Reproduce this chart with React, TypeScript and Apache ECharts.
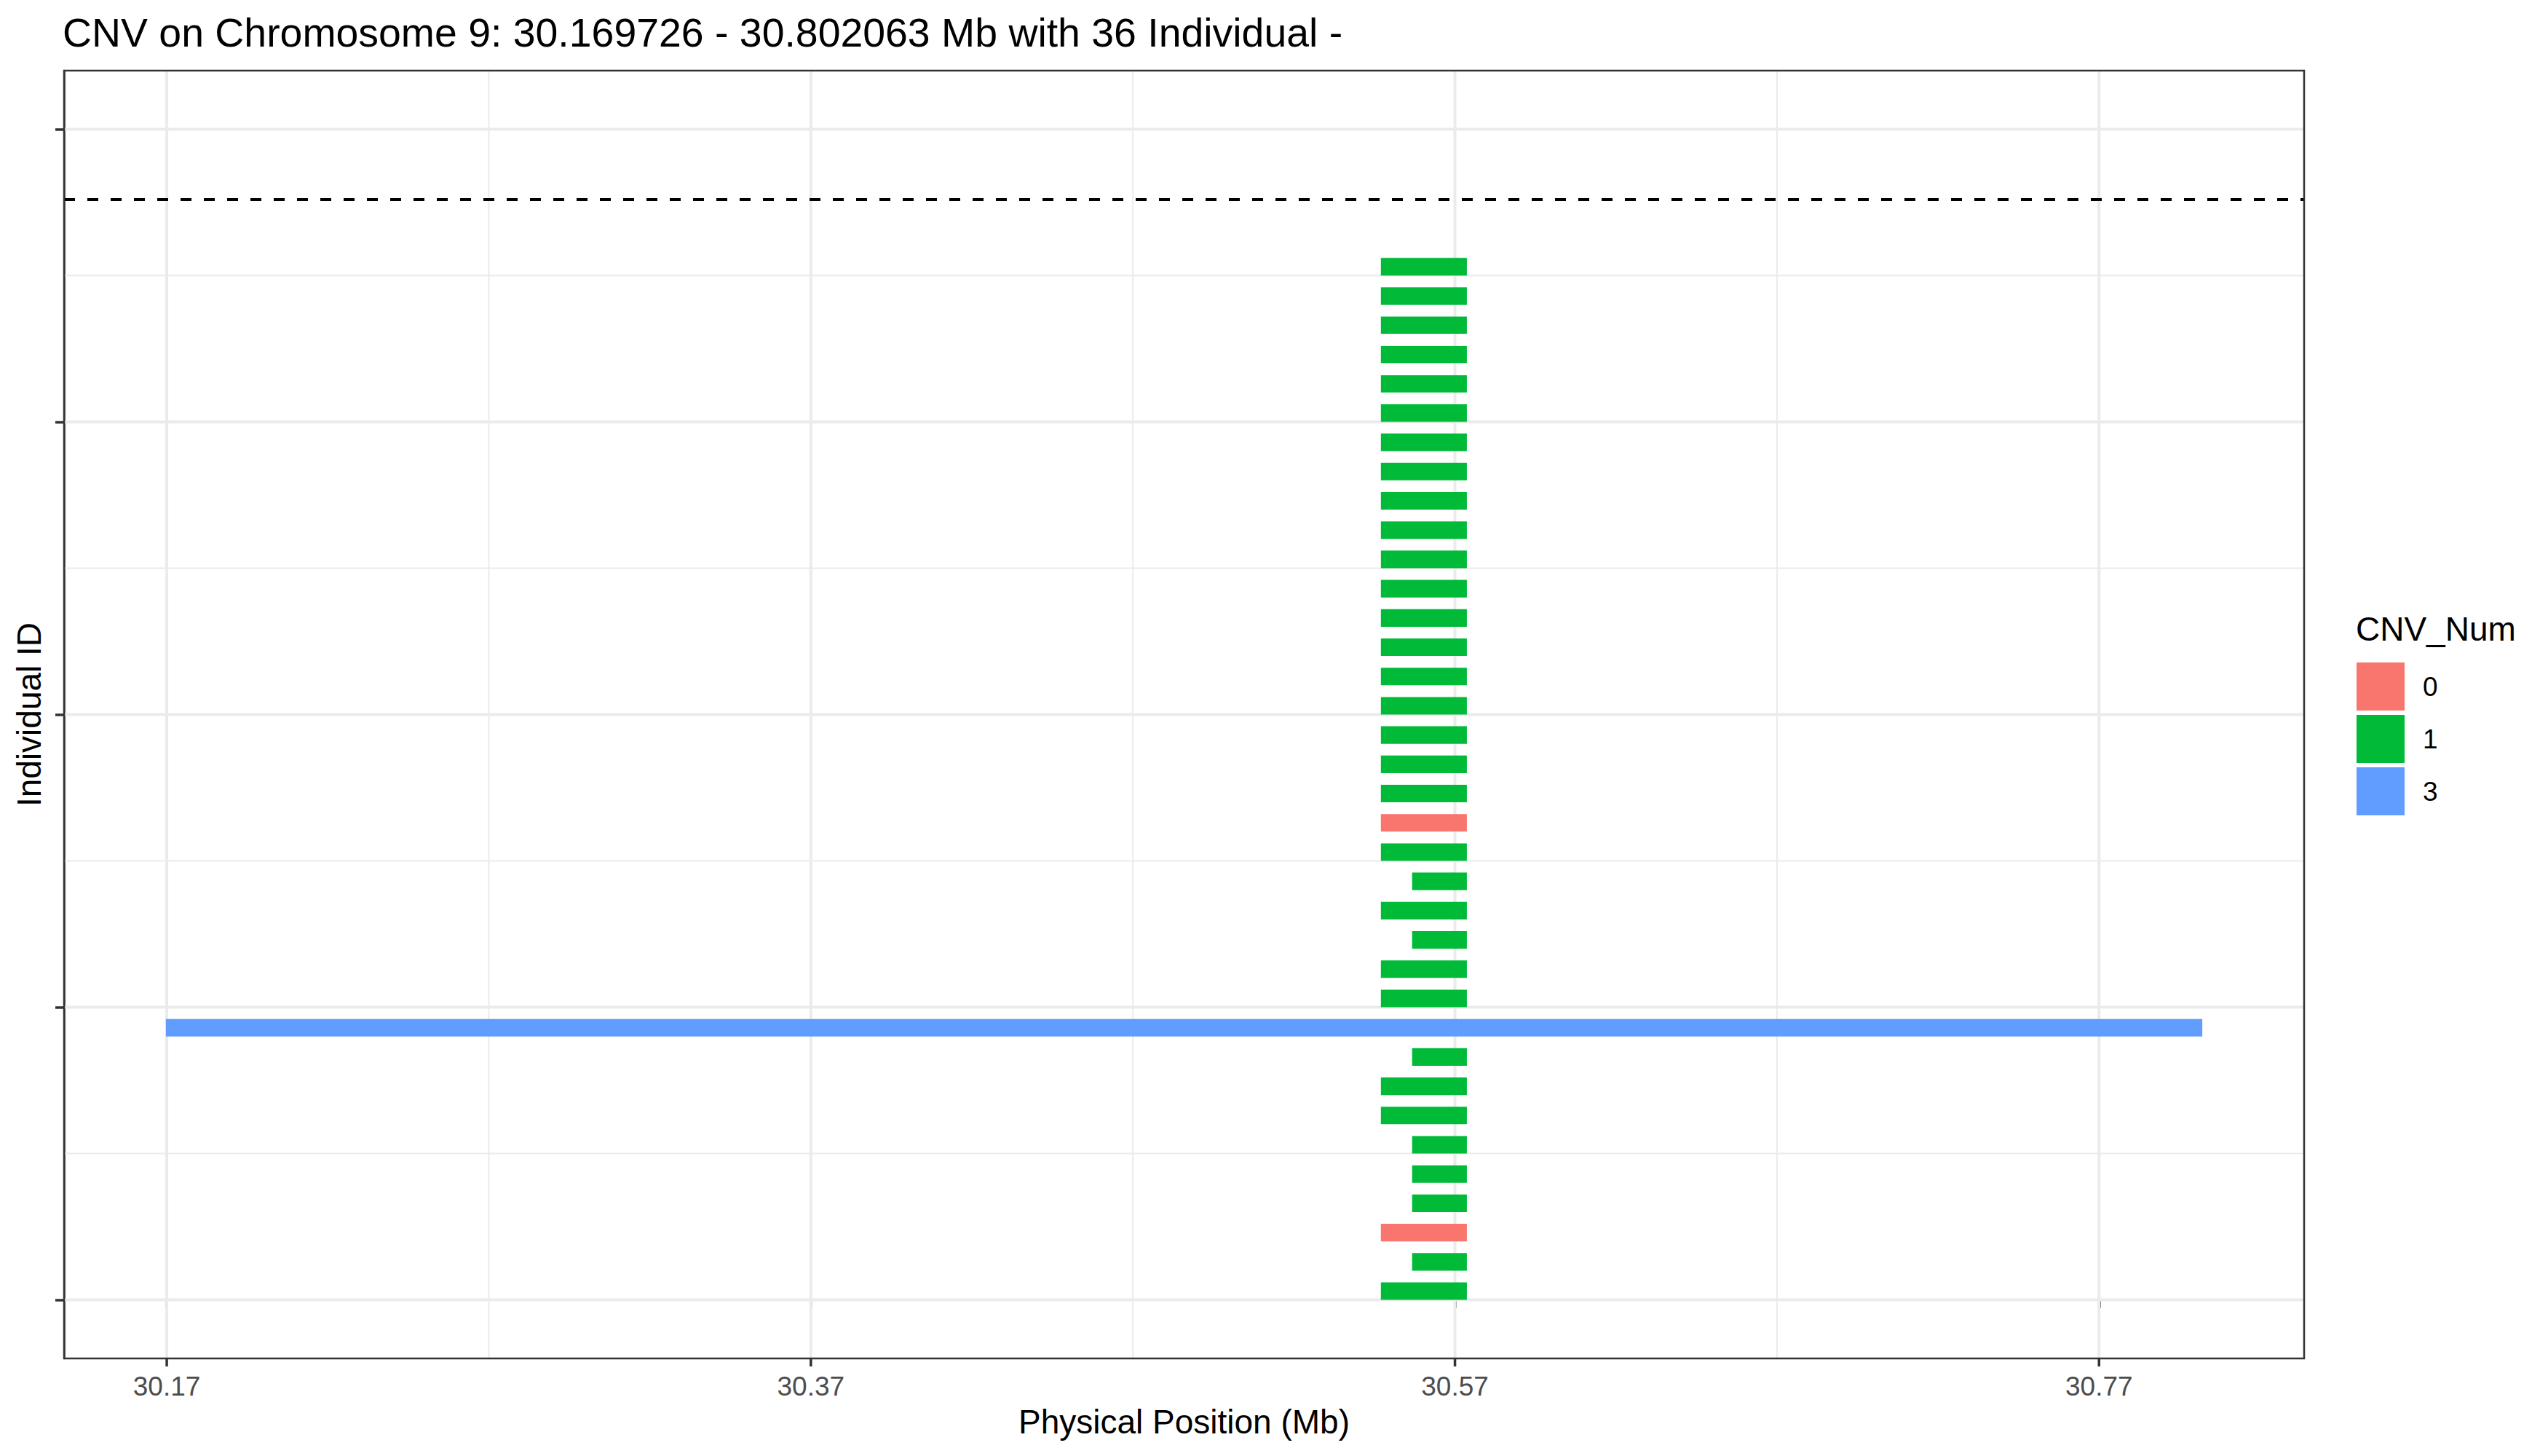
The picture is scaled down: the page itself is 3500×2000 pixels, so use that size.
import React, { useEffect, useRef } from "react";
import * as echarts from "echarts";

// ---- Data ----
const titleText = "CNV on Chromosome 9: 30.169726 - 30.802063 Mb with 36 Individual -";
const individualIndex = [
  0, 1, 2, 3, 4, 5, 6, 7, 8, 9, 10, 11, 12, 13, 14, 15, 16, 17,
  18, 19, 20, 21, 22, 23, 24, 25, 26, 27, 28, 29, 30, 31, 32, 33, 34, 35,
];
const cnvStart = [
  30.547, 30.5567, 30.547, 30.5567, 30.5567, 30.5567, 30.547, 30.547, 30.5567,
  30.169726, 30.547, 30.547, 30.5567, 30.547, 30.5567, 30.547, 30.547, 30.547,
  30.547, 30.547, 30.547, 30.547, 30.547, 30.547, 30.547, 30.547, 30.547,
  30.547, 30.547, 30.547, 30.547, 30.547, 30.547, 30.547, 30.547, 30.547,
];
const cnvEnd = [
  30.5737, 30.5737, 30.5737, 30.5737, 30.5737, 30.5737, 30.5737, 30.5737, 30.5737,
  30.802063, 30.5737, 30.5737, 30.5737, 30.5737, 30.5737, 30.5737, 30.5737, 30.5737,
  30.5737, 30.5737, 30.5737, 30.5737, 30.5737, 30.5737, 30.5737, 30.5737, 30.5737,
  30.5737, 30.5737, 30.5737, 30.5737, 30.5737, 30.5737, 30.5737, 30.5737, 30.5737,
];
const cnvNum = [
  1, 1, 0, 1, 1, 1, 1, 1, 1, 3, 1, 1, 1, 1, 1, 1, 0, 1,
  1, 1, 1, 1, 1, 1, 1, 1, 1, 1, 1, 1, 1, 1, 1, 1, 1, 1,
];
const cnvLevels = [0, 1, 3];
const barThickness = 0.6; // in individual-index units
const dashedLineY = 37.6;
const xLimits = [30.138109, 30.83368];
const yLimits = [-2, 42];
const xMajorTicks = [30.17, 30.37, 30.57, 30.77];
const xMinorTicks = [30.27, 30.47, 30.67];
const yMajorTicks = [0, 10, 20, 30, 40];
const yMinorTicks = [5, 15, 25, 35];

// ---- Styles ----
const levelColors = ["#F8766D", "#00BA38", "#619CFF"];
const FONT = "'Liberation Sans', Arial, Helvetica, sans-serif";
const GRID_COLOR = "#EBEBEB";
const AXIS_COLOR = "#333333";

export default function App() {
  const ref = useRef<HTMLDivElement>(null);

  useEffect(() => {
    if (!ref.current) return;
    const chart = echarts.init(ref.current, null, { renderer: "svg" });

    const hGrid = (values: number[], width: number, name: string) => ({
      type: "custom",
      name,
      silent: true,
      z: 1,
      data: values.map((v) => [xLimits[0], v]),
      renderItem: (params: any, api: any) => {
        const cs = params.coordSys;
        const y = api.coord([api.value(0), api.value(1)])[1];
        return {
          type: "line",
          shape: { x1: cs.x, y1: y, x2: cs.x + cs.width, y2: y },
          style: { stroke: GRID_COLOR, lineWidth: width },
        };
      },
    });
    const vGrid = (values: number[], width: number, name: string) => ({
      type: "custom",
      name,
      silent: true,
      z: 1,
      data: values.map((v) => [v, yLimits[0]]),
      renderItem: (params: any, api: any) => {
        const cs = params.coordSys;
        const x = api.coord([api.value(0), api.value(1)])[0];
        return {
          type: "line",
          shape: { x1: x, y1: cs.y, x2: x, y2: cs.y + cs.height },
          style: { stroke: GRID_COLOR, lineWidth: width },
        };
      },
    });
    // x-axis tick marks, drawn just below the panel
    const xTickMarks = {
      type: "custom",
      name: "xTickMarks",
      silent: true,
      clip: false,
      z: 11,
      data: xMajorTicks.map((v) => [v, yLimits[0]]),
      renderItem: (params: any, api: any) => {
        const cs = params.coordSys;
        const x = api.coord([api.value(0), api.value(1)])[0];
        const y0 = cs.y + cs.height;
        return {
          type: "line",
          shape: { x1: x, y1: y0, x2: x, y2: y0 + 11 },
          style: { stroke: AXIS_COLOR, lineWidth: 3.5 },
        };
      },
    };

    const barSeries = cnvLevels.map((lvl, li) => {
      const data = individualIndex
        .filter((i) => cnvNum[i] === lvl)
        .map((i) => [cnvStart[i], cnvEnd[i], i]);
      const color = levelColors[li];
      const s: any = {
        type: "custom",
        name: String(lvl),
        z: 3,
        itemStyle: { color },
        encode: { x: [0, 1], y: 2 },
        data,
        renderItem: (params: any, api: any) => {
          const p0 = api.coord([api.value(0), api.value(2)]);
          const p1 = api.coord([api.value(1), api.value(2) + barThickness]);
          return {
            type: "rect",
            shape: {
              x: p0[0],
              y: p1[1],
              width: p1[0] - p0[0],
              height: p0[1] - p1[1],
            },
            style: { fill: color },
          };
        },
      };
      if (lvl === 1) {
        s.markLine = {
          silent: true,
          symbol: ["none", "none"],
          label: { show: false },
          lineStyle: { color: "#000000", width: 4, type: [15, 17] },
          data: [{ yAxis: dashedLineY }],
          z: 4,
        };
      }
      return s;
    });

    const option: any = {
      animation: false,
      backgroundColor: "#FFFFFF",
      textStyle: { fontFamily: FONT },
      title: {
        text: titleText,
        left: 86,
        top: 17,
        padding: 0,
        textStyle: {
          fontFamily: FONT,
          fontSize: 55.4,
          fontWeight: "normal",
          color: "#000000",
        },
      },
      grid: {
        left: 88,
        top: 97,
        right: 335,
        bottom: 134,
        show: true,
        z: 10,
        backgroundColor: "transparent",
        borderColor: AXIS_COLOR,
        borderWidth: 2.5,
      },
      legend: {
        data: cnvLevels.map(String),
        orient: "vertical",
        left: 3237,
        top: 910,
        padding: 0,
        itemWidth: 66,
        itemHeight: 66,
        itemGap: 6,
        icon: "rect",
        selectedMode: false,
        textStyle: {
          fontFamily: FONT,
          fontSize: 37,
          color: "#000000",
          padding: [0, 0, 0, 20],
        },
      },
      xAxis: {
        type: "value",
        min: xLimits[0],
        max: xLimits[1],
        name: "Physical Position (Mb)",
        nameLocation: "middle",
        nameGap: 64,
        nameTextStyle: { fontFamily: FONT, fontSize: 46, color: "#000000" },
        axisLine: { show: true, lineStyle: { color: AXIS_COLOR, width: 2.5 } },
        axisTick: {
          show: true,
          customValues: xMajorTicks,
          length: 11,
          lineStyle: { color: AXIS_COLOR, width: 3.5 },
        },
        axisLabel: {
          show: true,
          customValues: xMajorTicks,
          margin: 20,
          fontFamily: FONT,
          fontSize: 37,
          color: "#4D4D4D",
          formatter: (v: number) => v.toFixed(2),
        },
        splitLine: { show: false },
        minorSplitLine: { show: false },
      },
      yAxis: {
        type: "value",
        min: yLimits[0],
        max: yLimits[1],
        name: "Individual ID",
        nameLocation: "middle",
        nameRotate: 90,
        nameGap: 25,
        nameTextStyle: { fontFamily: FONT, fontSize: 46, color: "#000000" },
        axisLine: { show: true, lineStyle: { color: AXIS_COLOR, width: 2.5 } },
        axisTick: {
          show: true,
          customValues: yMajorTicks,
          length: 12,
          lineStyle: { color: AXIS_COLOR, width: 3.5 },
        },
        axisLabel: { show: false },
        splitLine: { show: false },
        minorSplitLine: { show: false },
      },
      series: [
        hGrid(yMinorTicks, 2, "gridYMinor"),
        vGrid(xMinorTicks, 2, "gridXMinor"),
        hGrid(yMajorTicks, 4, "gridYMajor"),
        vGrid(xMajorTicks, 4, "gridXMajor"),
        ...barSeries,
        xTickMarks,
      ],
      graphic: [
        {
          type: "text",
          left: 3236,
          top: 841,
          style: {
            text: "CNV_Num",
            fontFamily: FONT,
            fontSize: 46,
            fill: "#000000",
          },
        },
      ],
    };

    chart.setOption(option);
    return () => chart.dispose();
  }, []);

  return (
    <div
      ref={ref}
      style={{ position: "fixed", left: 0, top: 0, width: 3500, height: 2000 }}
    />
  );
}
